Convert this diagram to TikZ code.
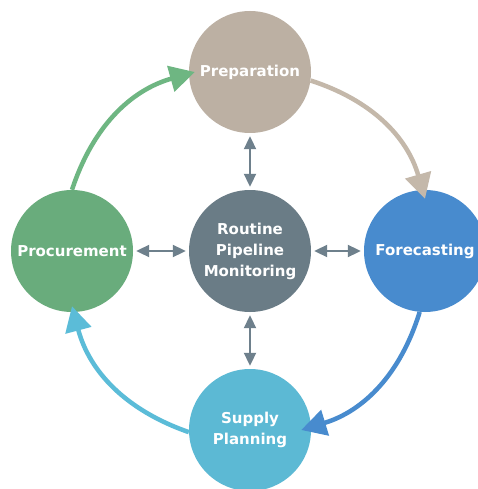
\documentclass[tikz,border=0pt]{standalone}
\usepackage{fontspec}
\setmainfont{DejaVu Sans}
\usetikzlibrary{arrows.meta}
\definecolor{prepC}{RGB}{188,176,163}
\definecolor{monC}{RGB}{106,124,134}
\definecolor{procC}{RGB}{105,172,124}
\definecolor{foreC}{RGB}{72,139,206}
\definecolor{supC}{RGB}{92,185,212}
\definecolor{greenA}{RGB}{110,182,130}
\definecolor{tanA}{RGB}{196,184,170}
\definecolor{blueA}{RGB}{72,139,206}
\definecolor{lblueA}{RGB}{91,188,216}
\definecolor{dblA}{RGB}{110,128,140}
\begin{document}
\begin{tikzpicture}[x=1pt,y=-1pt,
  stage/.style={circle, minimum size=122pt, inner sep=0pt, text=white,
    font=\fontsize{15}{21}\selectfont\bfseries, align=center},
  dbl/.style={draw=dblA, line width=2pt,
    {Triangle[length=13pt,width=12pt]}-{Triangle[length=13pt,width=12pt]},
    shorten <=3pt, shorten >=3pt},
  cyc/.style={line width=4.5pt, -{Triangle[length=25pt,width=26pt]}}]
\useasboundingbox[fill=white] (0,0) rectangle (477,489);
\node[stage, fill=prepC] (prep) at (250,72) {Preparation};
\node[stage, fill=monC] (mon) at (250,251) {Routine\\Pipeline\\Monitoring};
\node[stage, fill=procC] (proc) at (72,251) {Procurement};
\node[stage, fill=foreC] (fore) at (425,251) {Forecasting};
\node[stage, fill=supC] (sup) at (250,430) {Supply\\Planning};
\draw[dbl] (prep.south) -- (mon.north);
\draw[dbl] (proc.east) -- (mon.west);
\draw[dbl] (mon.east) -- (fore.west);
\draw[dbl] (mon.south) -- (sup.north);
\draw[cyc, draw=greenA] (proc.north) to[bend left=28] ([xshift=6pt]prep.west);
\draw[cyc, draw=tanA] (prep.-8) to[bend left=28] ([yshift=-9pt]fore.north);
\draw[cyc, draw=blueA] (fore.-95) to[bend left=28] ([xshift=-10pt]sup.east);
\draw[cyc, draw=lblueA] (sup.182) to[bend left=28] ([yshift=6pt]proc.south);
\end{tikzpicture}
\end{document}
